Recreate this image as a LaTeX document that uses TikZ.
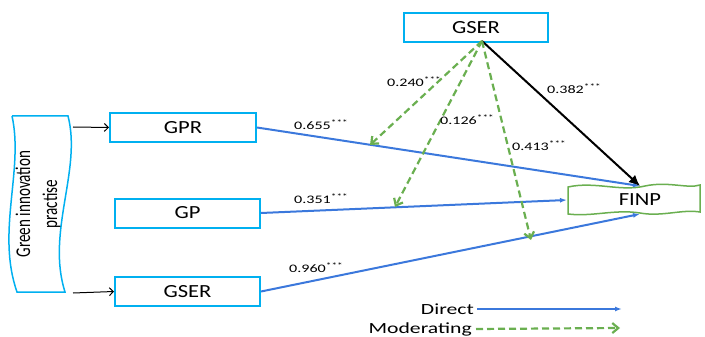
\documentclass[tikz,border=0pt]{standalone}
\usepackage{fontspec}
\setmainfont{Carlito}
\newfontfamily\widefont{Carlito}[FakeStretch=1.4]
\newfontfamily\boxfont{Carlito}[FakeStretch=1.22]
\newfontfamily\narrowfont{Carlito}[FakeStretch=0.72]
\usetikzlibrary{arrows.meta}
\definecolor{boxcyan}{HTML}{00B0F0}
\definecolor{linkblue}{HTML}{3B78DC}
\definecolor{modgreen}{HTML}{6AAF50}
\newcommand{\sigstars}{\textsuperscript{***}}
\tikzset{
  varbox/.style={draw=boxcyan,line width=2pt,minimum height=29pt,inner sep=0pt,
    font=\boxfont\fontsize{18.5}{18.5}\selectfont},
  direct/.style={linkblue,line width=2pt,-{Latex[length=7pt,width=5pt]}},
  moder/.style={modgreen,line width=2.2pt,dash pattern=on 7pt off 4pt,
    -{Straight Barb[length=6pt,width=10pt]}},
  coef/.style={font=\widefont\fontsize{11.5}{11.5}\selectfont,inner sep=0pt,anchor=west},
  legtext/.style={font=\widefont\fontsize{15.5}{15.5}\selectfont,inner sep=0pt,anchor=east},
}

\begin{document}
\begin{tikzpicture}[x=1pt,y=-1pt]
  \useasboundingbox (0,0) rectangle (705,337);

  % left wavy block
  \draw[boxcyan,line width=1.5pt,fill=white] (12,116) -- (68,116)
    .. controls (82,170) and (46,232) .. (65,292) -- (17,292)
    .. controls (-4,232) and (24,170) .. (12,116);
  \node[rotate=90,align=center,font=\narrowfont\fontsize{21}{27}\selectfont] (gip) at (38,204)
    {Green innovation\\practise};
  \coordinate (gipa) at (73,127);
  \coordinate (gipb) at (73,293);

  % variable boxes
  \node[varbox,minimum width=146pt] (gpr) at (183,127.5) {GPR};
  \node[varbox,minimum width=145pt] (gp) at (187.5,213) {GP};
  \node[varbox,minimum width=145pt] (gserb) at (187.5,291.5) {GSER};
  \node[varbox,minimum width=144pt] (gsert) at (476,28) {GSER};

  % FINP with wavy border
  \draw[modgreen,line width=1.5pt,fill=white] (568,187)
    .. controls (595,181) and (620,192) .. (645,186)
    .. controls (668,181) and (688,189) .. (700,185) -- (700,212)
    .. controls (682,209) and (662,217) .. (640,213)
    .. controls (615,209) and (592,217) .. (568,214) -- cycle;
  \node[font=\boxfont\fontsize{18.5}{18.5}\selectfont] (finp) at (640,200) {FINP};
  \coordinate (fintop) at (640,186);
  \coordinate (finleft) at (567,200);
  \coordinate (finbot) at (640,214);

  \coordinate (hub) at (482,41);
  \coordinate (m1) at (370,145);
  \coordinate (m2) at (395,207);
  \coordinate (m3) at (531,240);

  \draw[black,line width=1pt,-{Straight Barb[length=4pt,width=8pt]}] (gipa) -- (gpr.west);
  \draw[black,line width=1pt,-{Straight Barb[length=4pt,width=8pt]}] (gipb) -- (gserb.west);

  % direct paths
  \draw[direct] (gpr.east) -- (fintop);
  \draw[direct] (gp.east) -- (finleft);
  \draw[direct] (gserb.east) -- (finbot);
  \draw[black,line width=2pt,-{Latex[length=11pt,width=10pt]}] (hub) -- (fintop);

  % moderating paths
  \draw[moder] (hub) -- (m1);
  \draw[moder] (hub) -- (m2);
  \draw[moder] (hub) -- (m3);

  % coefficients
  \node[coef] (c1) at (294,125) {0.655\sigstars};
  \node[coef] (c2) at (294,199) {0.351\sigstars};
  \node[coef] (c3) at (289,268) {0.960\sigstars};
  \node[coef] (c4) at (387,82) {0.240\sigstars};
  \node[coef] (c5) at (440,120) {0.126\sigstars};
  \node[coef] (c6) at (512,146) {0.413\sigstars};
  \node[coef] (c7) at (547,89) {0.382\sigstars};

  % legend
  \node[legtext] (ldir) at (474,309) {Direct};
  \node[legtext] (lmod) at (472,329) {Moderating};
  \coordinate (ldirend) at (622,309);
  \coordinate (lmodend) at (620,328);
  \draw[direct] ([xshift=3pt]ldir.east) -- (ldirend);
  \draw[moder] ([xshift=4pt]lmod.east) -- (lmodend);
\end{tikzpicture}
\end{document}
